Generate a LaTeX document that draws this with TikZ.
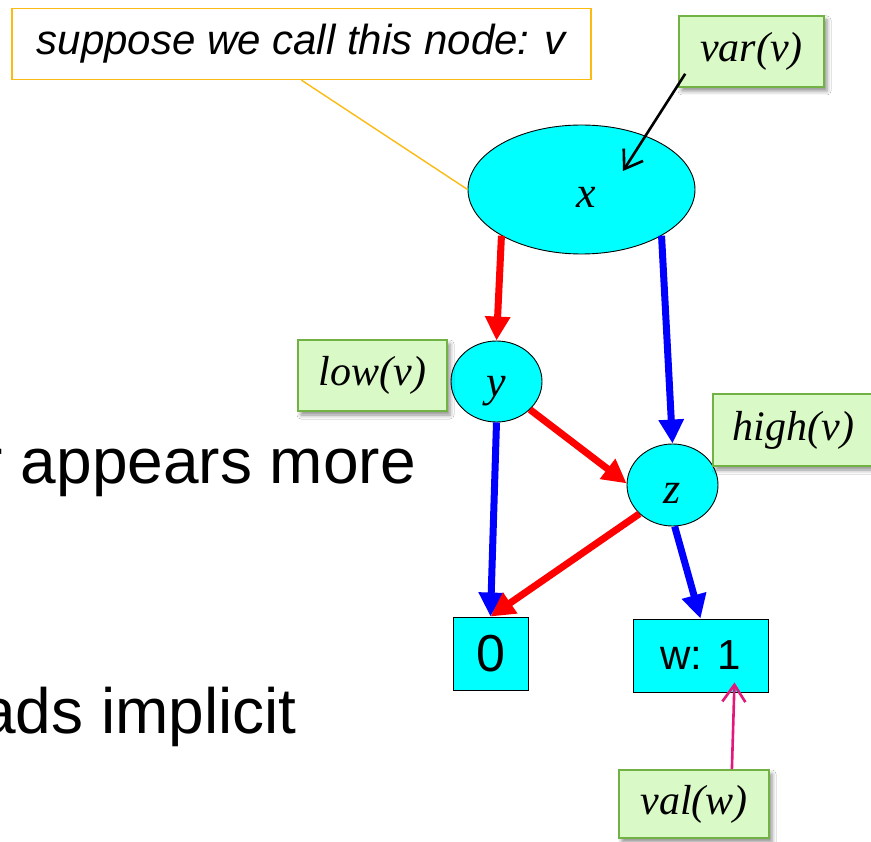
\documentclass[tikz,border=0pt]{standalone}
\usepackage{fontspec}
\setmainfont{Liberation Serif}
\setsansfont{Liberation Sans}
\usetikzlibrary{arrows.meta,calc,shapes.geometric,shadows.blur}

\definecolor{nodecyan}{RGB}{0,255,255}
\definecolor{notefill}{RGB}{217,249,199}
\definecolor{noteline}{RGB}{114,178,68}
\definecolor{calloutline}{RGB}{252,186,20}
\definecolor{lowred}{RGB}{255,0,0}
\definecolor{highblue}{RGB}{0,0,255}
\definecolor{valpink}{RGB}{228,24,122}

% variable letters sit a little below the centre of their node
\newcommand{\varletter}[2]{\raisebox{-#1}[0pt][0pt]{#2}}

\tikzset{
  bddnode/.style={draw=black, line width=0.9pt, fill=nodecyan, inner sep=0pt},
  leafbox/.style={bddnode, rectangle, font=\sffamily\fontsize{42}{50}\selectfont},
  inner/.style={bddnode, ellipse, font=\itshape\fontsize{44}{52}\selectfont},
  note/.style={draw=noteline, line width=1.6pt, fill=notefill, rectangle, inner sep=0pt,
    font=\itshape\fontsize{42}{50}\selectfont,
    blur shadow={shadow xshift=3pt, shadow yshift=-4pt, shadow blur radius=4pt, shadow opacity=45}},
  lowedge/.style={draw=lowred, line width=7pt, -{Triangle[length=24pt,width=24pt]}},
  highedge/.style={draw=highblue, line width=7pt, -{Triangle[length=24pt,width=24pt]}},
  pointer/.style={line width=2.6pt, -{Straight Barb[length=17pt,width=23pt]}},
  bodytext/.style={font=\sffamily\fontsize{64}{76}\selectfont, inner sep=0pt}
}

\begin{document}
\begin{tikzpicture}[x=1pt,y=-1pt]
\useasboundingbox (0,0) rectangle (871,842);
\clip (0,0) rectangle (871,842);
\fill[white] (0,0) rectangle (871,842);

% slide text running behind the diagram
\node[bodytext, anchor=base east] (line1) at (416,483) {r appears more};
\node[bodytext, anchor=base east] (line2) at (297,733) {ads implicit};

% callout naming the root node
\node[draw=calloutline, line width=1.4pt, fill=white, rectangle, inner sep=0pt,
      minimum width=579pt, minimum height=71pt,
      font=\sffamily\itshape\fontsize{42}{50}\selectfont] (callout) at (301.5,44) {suppose we call this node: v};

% decision nodes
\node[inner, minimum width=227pt, minimum height=129pt] (x) at (581.5,189.5) {\hspace{10pt}\varletter{18pt}{x}};
\node[inner, minimum width=91pt, minimum height=81pt] (y) at (496.5,381.5) {\varletter{15pt}{y}};
\node[inner, minimum width=91pt, minimum height=82pt] (z) at (672.5,485) {\varletter{19pt}{z}};

% terminal nodes
\node[leafbox, minimum width=75pt, minimum height=73pt, font=\sffamily\fontsize{52}{60}\selectfont] (zero) at (490.5,653.5) {0};
\node[leafbox, minimum width=135pt, minimum height=73pt] (w) at (700.5,655.5) {w: 1};

% annotation boxes
\node[note, minimum width=145pt, minimum height=71pt] (var) at (751.5,51.5) {var(v)};
\node[note, minimum width=149pt, minimum height=71pt] (low) at (372.5,375.5) {low(v)};
\node[note, minimum width=161pt, minimum height=72pt] (high) at (793.5,430) {high(v)};
\node[note, minimum width=150pt, minimum height=68pt] (val) at (694,804) {val(w)};

% callout leader
\draw[calloutline, line width=1.4pt] (callout.south) -- (x.west);

% low (red) and high (blue) edges
\draw[lowedge] (x.210) -- (y.north);
\draw[highedge] (x.330) -- (z.north);
\draw[lowedge] (y.320) -- (z.178);
\draw[highedge] (y.south) -- (zero.north);
\draw[lowedge] (z.221) -- (zero.north);
\draw[highedge] (z.273) -- (w.north);

% pointers from the annotations
\coordinate (varfrom) at ($(var.south west)+(7,-14)$);
\coordinate (xmark) at ($(x.center)+(41.5,-18.5)$);
\draw[pointer, black] (varfrom) -- (xmark);
\coordinate (valfrom) at ($(val.north)!0.5!(val.north east)$);
\coordinate (wmark) at ($(w.south)!0.5!(w.south east)+(0,-10)$);
\draw[pointer, valpink] (valfrom) -- (wmark);
\end{tikzpicture}
\end{document}
